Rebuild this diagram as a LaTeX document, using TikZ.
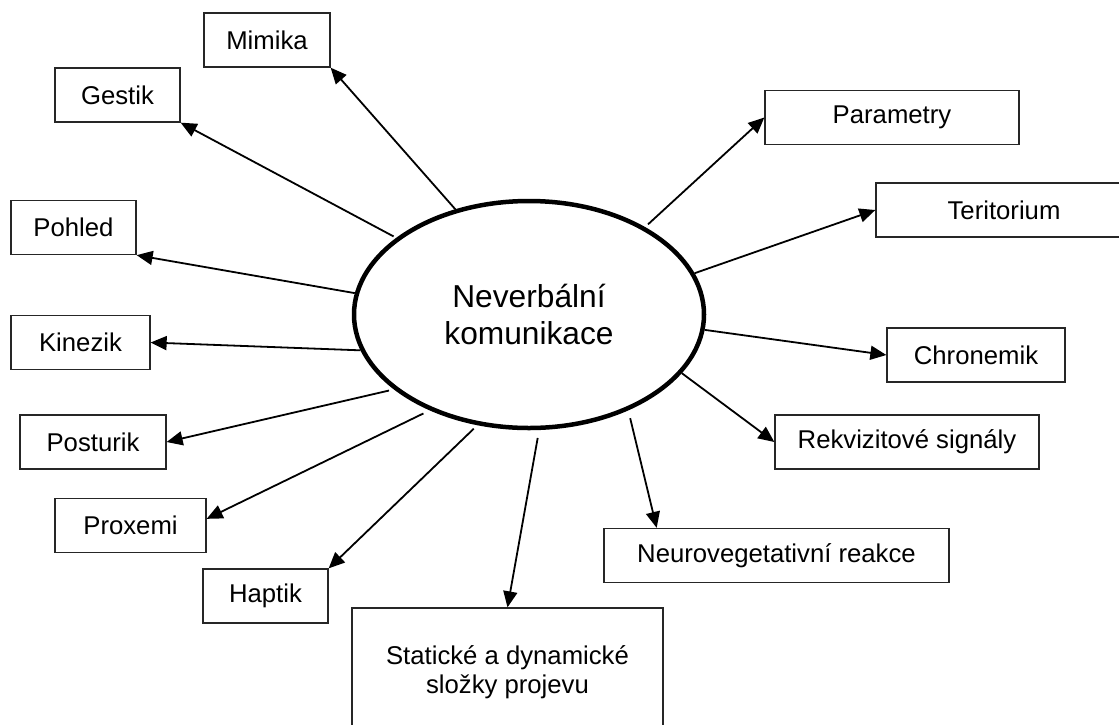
\documentclass[tikz,border=0pt]{standalone}
\usepackage{fontspec}
\setmainfont{Liberation Sans}
\usetikzlibrary{arrows.meta,shapes.geometric}

\begin{document}
\begin{tikzpicture}[x=1pt, y=-1pt,
centernode/.style={ellipse, draw=black, line width=4.5pt, minimum width=350pt, minimum height=227pt, inner sep=0pt, align=center, font=\fontsize{31.7}{36.5}\selectfont},
labelnode/.style={rectangle, draw=black!85, line width=1.3pt, inner sep=0pt, minimum height=54pt, align=center, font=\fontsize{25.7}{29.5}\selectfont},
arrowline/.style={-{Triangle[length=16pt, width=14pt]}, line width=1.8pt},
]
\clip (0,0) rectangle (1119,724);
\fill[white] (0,0) rectangle (1119,724);

%Nodes
\node[centernode]                          (center)     at (529,314.5) {Neverbální\\komunikace};
\node[labelnode, minimum width=126pt]      (mimika)     at (267,40)    {Mimika};
\node[labelnode, minimum width=125pt]      (gestik)     at (117.5,95)  {Gestik};
\node[labelnode, minimum width=125pt]      (pohled)     at (73.5,227.5) {Pohled};
\node[labelnode, minimum width=139pt]      (kinezik)    at (80.5,342.5) {Kinezik};
\node[labelnode, minimum width=146pt]      (posturik)   at (93,442)    {Posturik};
\node[labelnode, minimum width=151pt]      (proxemi)    at (130.5,525.5) {Proxemi};
\node[labelnode, minimum width=125pt]      (haptik)     at (265.5,596) {Haptik};
\node[labelnode, minimum width=311pt, minimum height=128pt] (slozky) at (507.5,672) {Statické a dynamické\\složky projevu};
\node[labelnode, minimum width=345pt]      (neuro)      at (776.5,555.5) {Neurovegetativní reakce};
\node[labelnode, minimum width=264pt]      (rekvizity)  at (907,442)   {Rekvizitové signály};
\node[labelnode, minimum width=178pt]      (chronemik)  at (976,355)   {Chronemik};
\node[labelnode, minimum width=256pt]      (teritorium) at (1004,210)  {Teritorium};
\node[labelnode, minimum width=254pt]      (parametry)  at (892,117.5) {Parametry};

%Lines
\draw[arrowline] (center.125.5) -- (mimika.south east);
\draw[arrowline, shorten <=3pt] (center.150.7) -- (gestik.south east);
\draw[arrowline] (center.173.1) -- (pohled.south east);
\draw[arrowline] (center.192.8) -- (kinezik.east);
\draw[arrowline, shorten <=5pt] (center.209) -- (posturik.east);
\draw[arrowline, shorten <=7pt] (center.224.6) -- (proxemi.5);
\draw[arrowline, shorten <=5pt] (center.245.8) -- (haptik.north east);
\draw[arrowline, shorten <=8pt] (center.275.1) -- (slozky.north);
\draw[arrowline, shorten <=8pt] (center.316.5) -- (neuro.167.9);
\draw[arrowline] (center.339.9) -- (rekvizity.west);
\draw[arrowline] (center.355.3) -- (chronemik.west);
\draw[arrowline] (center.14) -- (teritorium.west);
\draw[arrowline, shorten <=4pt] (center.37.8) -- (parametry.west);
\end{tikzpicture}
\end{document}
